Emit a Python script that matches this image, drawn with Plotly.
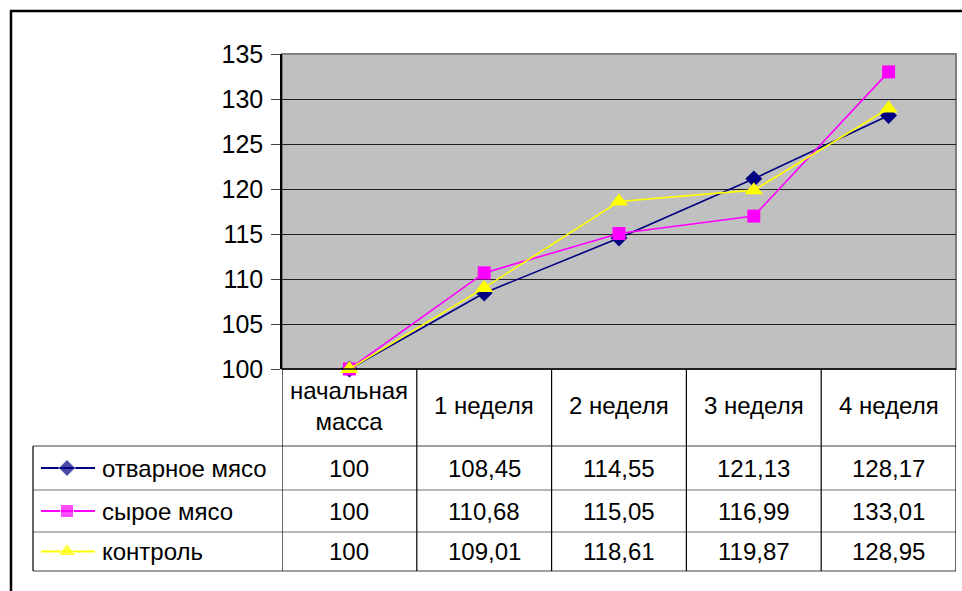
import plotly.graph_objects as go

W, H = 962, 591

# Weekly body mass, % of starting mass
categories = ["начальная<br>масса", "1 неделя", "2 неделя", "3 неделя", "4 неделя"]
boiled_meat = [100, 108.45, 114.55, 121.13, 128.17]
raw_meat = [100, 110.68, 115.05, 116.99, 133.01]
control = [100, 109.01, 118.61, 119.87, 128.95]

series_names = ["отварное мясо", "сырое мясо", "контроль"]
series_values = [boiled_meat, raw_meat, control]
series_colors = ["#000080", "#FF00FF", "#FFFF00"]
series_symbols = ["diamond", "square", "triangle-up"]
series_sizes = [13, 13, 16]

y_ticks = [100, 105, 110, 115, 120, 125, 130, 135]

FONT_FAMILY = "Liberation Sans, Arial, sans-serif"


def px_x(v):
    return v / W


def px_y(v):
    return 1 - v / H


# plot area in pixels
PL, PR, PT, PB = 282, 956, 54, 369
# data table rows (pixels)
ROW_LINES = [446, 490, 532, 571]
TABLE_LEFT = 33

fig = go.Figure()

idx = list(range(len(categories)))
for name, vals, col, sym, sz in zip(series_names, series_values, series_colors,
                                    series_symbols, series_sizes):
    fig.add_trace(go.Scatter(
        x=idx, y=vals, mode="lines+markers", name=name,
        line=dict(color=col, width=1.6),
        marker=dict(symbol=sym, size=sz, color=col),
        showlegend=False, xaxis="x", yaxis="y", cliponaxis=False,
    ))

# legend keys inside the data table, on a full-page pixel axis
for r, (col, sym, sz) in enumerate(zip(series_colors, series_symbols, series_sizes)):
    yc = (ROW_LINES[r] + ROW_LINES[r + 1]) / 2
    fig.add_trace(go.Scatter(
        x=[41, 67, 95], y=[yc, yc, yc], mode="lines+markers",
        line=dict(color=col, width=1.8),
        marker=dict(symbol=sym, size=[0, sz, 0], color=col),
        showlegend=False, xaxis="x2", yaxis="y2", hoverinfo="skip",
        cliponaxis=False,
    ))

shapes = []
# outer chart border
shapes.append(dict(type="rect", xref="paper", yref="paper",
                   x0=px_x(11), x1=px_x(975), y0=px_y(605), y1=px_y(11),
                   line=dict(color="black", width=2.5), fillcolor="rgba(0,0,0,0)"))
# plot area background
shapes.append(dict(type="rect", xref="paper", yref="paper", layer="below",
                   x0=px_x(PL), x1=px_x(PR), y0=px_y(PB), y1=px_y(PT),
                   line=dict(color="#808080", width=2), fillcolor="#C0C0C0"))

# table horizontal lines
for i, yl in enumerate(ROW_LINES):
    shapes.append(dict(type="line", xref="paper", yref="paper",
                       x0=px_x(TABLE_LEFT), x1=px_x(PR), y0=px_y(yl), y1=px_y(yl),
                       line=dict(color="#707070" if 0 < i < 3 else "#404040", width=1.2)))
# table vertical lines at category boundaries
for k in range(len(categories) + 1):
    shapes.append(dict(type="line", xref="x", yref="paper",
                       x0=k - 0.5, x1=k - 0.5, y0=px_y(PB), y1=px_y(ROW_LINES[-1]),
                       line=dict(color="black", width=1.2)))
shapes.append(dict(type="line", xref="paper", yref="paper",
                   x0=px_x(TABLE_LEFT), x1=px_x(TABLE_LEFT),
                   y0=px_y(ROW_LINES[0]), y1=px_y(ROW_LINES[-1]),
                   line=dict(color="black", width=1.2)))
# bottom axis line
shapes.append(dict(type="line", xref="paper", yref="paper",
                   x0=px_x(PL), x1=px_x(PR), y0=px_y(PB), y1=px_y(PB),
                   line=dict(color="black", width=1.5)))

annotations = []
font = dict(family=FONT_FAMILY, size=24, color="black")
# header row
for i, c in enumerate(categories):
    annotations.append(dict(x=i, y=px_y((PB + ROW_LINES[0]) / 2 - 2), xref="x", yref="paper",
                            text=c, showarrow=False, font=font,
                            xanchor="center", yanchor="middle"))


def fmt(v):
    if v == int(v):
        return str(int(v))
    return f"{v:.2f}".replace(".", ",")


for r, (name, vals) in enumerate(zip(series_names, series_values)):
    yc = px_y((ROW_LINES[r] + ROW_LINES[r + 1]) / 2)
    annotations.append(dict(x=px_x(100), y=yc, xref="paper", yref="paper",
                            text=name, showarrow=False, font=font,
                            xanchor="left", yanchor="middle"))
    for i, v in enumerate(vals):
        annotations.append(dict(x=i, y=yc, xref="x", yref="paper",
                                text=fmt(v), showarrow=False, font=font,
                                xanchor="center", yanchor="middle"))

fig.update_layout(
    width=W, height=H,
    margin=dict(l=0, r=0, t=0, b=0, autoexpand=False),
    paper_bgcolor="white", plot_bgcolor="rgba(0,0,0,0)",
    xaxis=dict(domain=[px_x(PL), px_x(PR)], range=[-0.5, len(categories) - 0.5],
               showticklabels=False, showgrid=False, zeroline=False, ticks="",
               automargin=False, fixedrange=True),
    yaxis=dict(domain=[px_y(PB), px_y(PT)], range=[100, 135], tickvals=y_ticks,
               showgrid=True, gridcolor="#202020", gridwidth=1,
               zeroline=False, ticks="outside", ticklen=9, tickcolor="#404040",
               showline=True, linecolor="black", linewidth=1.5,
               tickfont=dict(family=FONT_FAMILY, size=25, color="black"),
               ticklabelstandoff=3, automargin=False, fixedrange=True),
    xaxis2=dict(domain=[0, 1], range=[0, W], visible=False, anchor="y2",
                automargin=False, fixedrange=True),
    yaxis2=dict(domain=[0, 1], range=[H, 0], visible=False, anchor="x2",
                automargin=False, fixedrange=True),
    shapes=shapes,
    annotations=annotations,
)

fig.write_html("out.html")
